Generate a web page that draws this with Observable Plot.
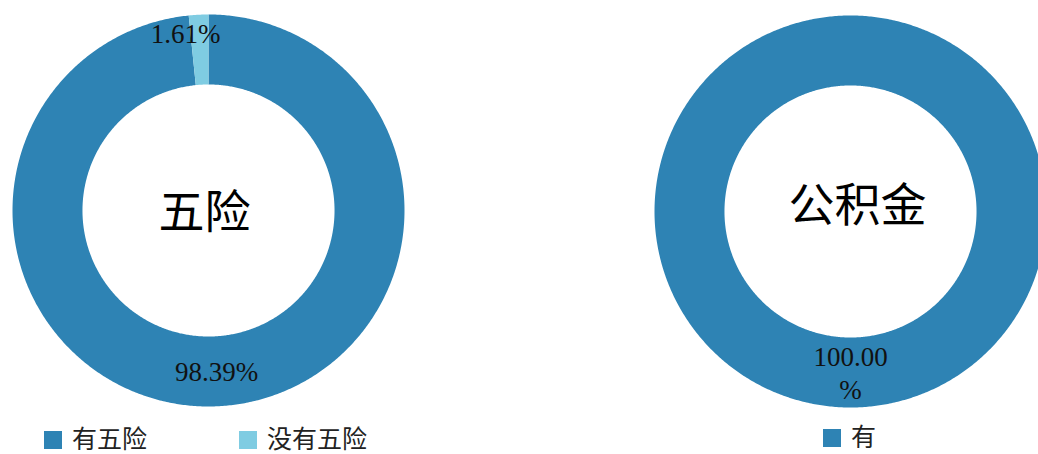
<!DOCTYPE html>
<html><head><meta charset="utf-8">
<script src="https://cdn.jsdelivr.net/npm/d3@7"></script>
<script src="https://cdn.jsdelivr.net/npm/@observablehq/plot@0.6"></script>
<style>
html,body{margin:0;padding:0;background:#fff;overflow:hidden;width:1038px;height:454px}
#wrap{position:relative;width:1038px;height:454px;overflow:hidden}
.chart{position:absolute;top:0;width:416px;height:454px}
.chart svg{max-width:none !important;width:416px;height:454px}
.legend{position:absolute;display:flex;align-items:center;height:25px;line-height:25px;font-family:"Liberation Serif","Noto Sans CJK SC",serif;font-size:25px;color:#222;white-space:nowrap}
.legend span.t{line-height:25px;display:inline-block;height:25px}
.sw{display:inline-block;width:18px;height:18px;margin-right:10px}
</style></head><body><div id="wrap"></div>
<script>
// ---- data ----
const insuranceCategories = ["有五险", "没有五险"];
const insuranceValues = [98.39, 1.61];
const insuranceLabels = ["98.39%", "1.61%"];
const fundCategories = ["有"];
const fundValues = [100.00];
const fundLabels = ["100.00\n%"];
const titles = ["五险", "公积金"];
const palette = ["#2e83b4", "#7fcce2"];

const INNER = 0.643;
const FONT = '"Liberation Serif","Noto Sans CJK SC",serif';

function slices(cats, vals, labels) {
  const total = d3.sum(vals);
  let acc = 0;
  return cats.map((c, i) => {
    const a0 = acc / total * 2 * Math.PI;
    acc += vals[i];
    const a1 = acc / total * 2 * Math.PI;
    return {category: c, value: vals[i], label: labels[i], a0, a1, mid: (a0 + a1) / 2};
  });
}
function ringPoints(s) {
  const pts = [];
  const n = Math.max(2, Math.ceil((s.a1 - s.a0) / (Math.PI / 360)));
  for (let k = 0; k <= n; k++) {
    const a = s.a0 + (s.a1 - s.a0) * k / n;
    pts.push({category: s.category, x: Math.sin(a), y: Math.cos(a)});
  }
  for (let k = n; k >= 0; k--) {
    const a = s.a0 + (s.a1 - s.a0) * k / n;
    pts.push({category: s.category, x: INNER * Math.sin(a), y: INNER * Math.cos(a)});
  }
  return pts;
}

function donut({cats, vals, labels, colors, title, titleDx, titleDy, marginTop}) {
  const sl = slices(cats, vals, labels);
  const pts = sl.flatMap(ringPoints);
  return Plot.plot({
    width: 416, height: 454,
    marginLeft: 12, marginRight: 12, marginTop, marginBottom: 454 - marginTop - 392,
    x: {domain: [-1, 1], axis: null},
    y: {domain: [-1, 1], axis: null},
    color: {domain: cats, range: colors},
    style: {fontFamily: FONT, background: "transparent", overflow: "visible"},
    marks: [
      Plot.line(pts, {x: "x", y: "y", z: "category", fill: "category", stroke: "none", curve: "linear-closed"}),
      Plot.text(sl.filter(d => d.value >= 5), {
        x: d => 0.82 * Math.sin(d.mid), y: d => 0.82 * Math.cos(d.mid),
        text: "label", fontSize: 27, lineHeight: 1.2, fill: "#111"
      }),
      Plot.text(sl.filter(d => d.value < 5), {
        x: d => 0.9 * Math.sin(d.mid), y: d => 0.9 * Math.cos(d.mid),
        text: "label", fontSize: 27, dx: -14, fill: "#111"
      }),
      Plot.text([title], {frameAnchor: "middle", text: d => d, fontSize: 46, dx: titleDx, dy: titleDy, fill: "#000"})
    ]
  });
}

const wrap = document.getElementById("wrap");
function place(el, left) {
  const d = document.createElement("div");
  d.className = "chart";
  d.style.left = left + "px";
  d.appendChild(el);
  wrap.appendChild(d);
}
place(donut({cats: insuranceCategories, vals: insuranceValues, labels: insuranceLabels,
  colors: palette, title: titles[0], titleDx: -4, titleDy: 3, marginTop: 14}), 0);
place(donut({cats: fundCategories, vals: fundValues, labels: fundLabels,
  colors: [palette[0]], title: titles[1], titleDx: 7, titleDy: -5, marginTop: 15}), 642);

function legendItem(name, color, left, top) {
  const d = document.createElement("div");
  d.className = "legend";
  d.style.left = left + "px";
  d.style.top = top + "px";
  const sw = document.createElement("span");
  sw.className = "sw";
  sw.style.background = color;
  d.appendChild(sw);
  const t = document.createElement("span");
  t.className = "t";
  t.textContent = name;
  d.appendChild(t);
  wrap.appendChild(d);
}
legendItem(insuranceCategories[0], palette[0], 44, 427);
legendItem(insuranceCategories[1], palette[1], 239, 427);
legendItem(fundCategories[0], palette[0], 823, 425);
</script></body></html>
